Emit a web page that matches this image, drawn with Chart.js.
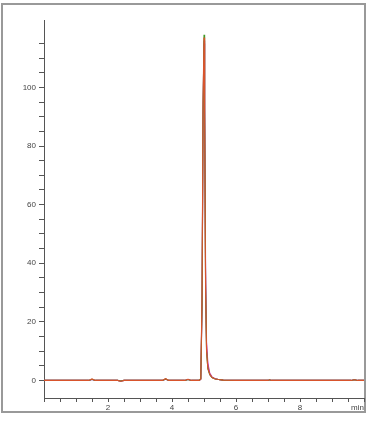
<!DOCTYPE html>
<html>
<head>
<meta charset="utf-8">
<script src="https://cdn.jsdelivr.net/npm/chart.js@4/dist/chart.umd.min.js"></script>
<style>
html,body{margin:0;padding:0;background:#fff;}
#wrap{width:374px;height:425px;position:relative;}
</style>
</head>
<body>
<div id="wrap"><canvas id="c" width="374" height="425"></canvas></div>
<script>
// retention time (min)
const times = [0, 0.8, 1.4, 1.5, 1.6, 2.3, 2.4, 2.5, 3.7, 3.8, 3.9, 4.4, 4.5, 4.6, 4.85, 4.9, 4.94, 4.97, 5.0, 5.02, 5.05, 5.08, 5.12, 5.18, 5.25, 5.35, 5.45, 5.6, 6.0, 7.0, 7.05, 7.1, 8.0, 9.6, 9.7, 9.8, 10];
// detector signal per trace
const traceA = [0, 0, 0, 0.5, 0, 0, -0.3, 0, 0, 0.6, 0, 0, 0.4, 0, 0, 0.5, 30, 95, 117, 90, 30, 10, 4, 2, 1, 0.5, 0.3, 0.1, 0, 0, 0.2, 0, 0, 0, 0.2, 0, 0];
const traceB = [0, 0, 0, 0.4, 0, 0, -0.2, 0, 0, 0.5, 0, 0, 0.3, 0, 0, 0.6, 26, 90, 118, 93, 32, 10, 4, 2, 1, 0.5, 0.3, 0.1, 0, 0, 0.2, 0, 0, 0, 0.2, 0, 0];
const traceC = [0, 0, 0, 0.3, 0, 0, -0.2, 0, 0, 0.4, 0, 0, 0.3, 0, 0, 0.4, 28, 92, 116, 93, 33, 11, 5, 2, 1, 0.6, 0.3, 0.1, 0, 0, 0.2, 0, 0, 0, 0.3, 0, 0];
const traceD = [0, 0, 0, 0.4, 0, 0, -0.3, 0, 0, 0.5, 0, 0, 0.4, 0, 0, 0.5, 25, 88, 115, 97, 38, 13, 6, 2.5, 1.2, 0.6, 0.3, 0.1, 0, 0, 0.2, 0, 0, 0, 0.2, 0, 0];
// first entry is drawn on top
const traces = [
  {label: 'A', values: traceA, color: '#d8542c'},
  {label: 'B', values: traceB, color: '#3f9b26'},
  {label: 'C', values: traceD, color: '#d432a6'},
  {label: 'D', values: traceC, color: '#7b3fa8'}
];
const xMajorLabels = [2, 4, 6, 8];
const yMajorLabels = [0, 20, 40, 60, 80, 100];

const frame = {
  id: 'frame',
  beforeDraw(chart) {
    const ctx = chart.ctx;
    ctx.save();
    ctx.fillStyle = '#fff';
    ctx.fillRect(0, 0, chart.width, chart.height);
    ctx.strokeStyle = '#999';
    ctx.lineWidth = 2;
    ctx.strokeRect(2, 4, 363, 408);
    ctx.restore();
  }
};

const snapTicks = step => scale => {
  scale.ticks = scale.ticks.filter(t => Math.abs(t.value / step - Math.round(t.value / step)) < 1e-9);
};

new Chart(document.getElementById('c'), {
  type: 'line',
  data: {
    datasets: traces.map(t => ({
      label: t.label,
      data: times.map((x, i) => ({x: x, y: t.values[i]})),
      borderColor: t.color,
      borderWidth: 1.1,
      pointRadius: 0,
      tension: 0,
      fill: false
    }))
  },
  options: {
    responsive: false,
    animation: false,
    devicePixelRatio: 1,
    layout: {padding: {top: 20, right: 10, left: 0, bottom: 0}},
    plugins: {legend: {display: false}, tooltip: {enabled: false}},
    scales: {
      x: {
        type: 'linear',
        min: 0, max: 10,
        afterFit(s) { s.height = 27; },
        afterBuildTicks: snapTicks(0.5),
        border: {display: true, color: '#555', width: 1},
        grid: {drawOnChartArea: false, drawTicks: true, tickLength: 4, color: '#555'},
        ticks: {
          stepSize: 0.5, autoSkip: false, maxRotation: 0, padding: 1, align: 'inner',
          color: '#444', font: {family: 'Liberation Sans', size: 8},
          callback: v => xMajorLabels.includes(v) ? String(v) : (v === 10 ? 'min' : '')
        }
      },
      y: {
        type: 'linear',
        min: -6, max: 123,
        afterFit(s) { s.width = 44; },
        afterBuildTicks: snapTicks(5),
        border: {display: true, color: '#555', width: 1},
        grid: {drawOnChartArea: false, drawTicks: true, tickLength: 5, color: '#555'},
        ticks: {
          stepSize: 5, autoSkip: false, padding: 3,
          color: '#444', font: {family: 'Liberation Sans', size: 8},
          callback: v => yMajorLabels.includes(v) ? String(v) : ''
        }
      }
    }
  },
  plugins: [frame]
});
</script>
</body>
</html>
